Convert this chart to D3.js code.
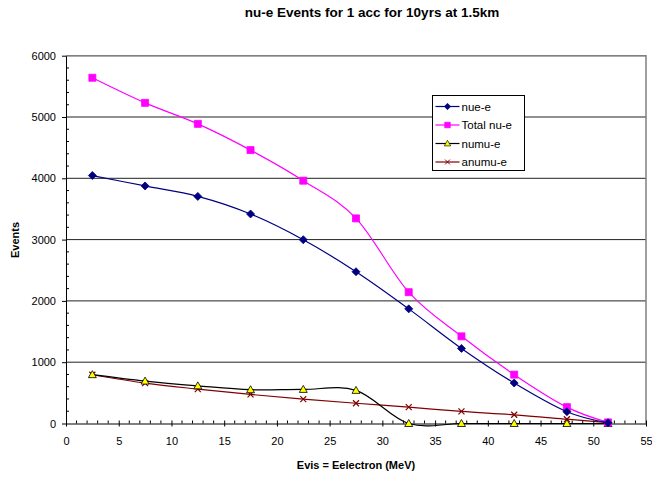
<!DOCTYPE html>
<html>
<head>
<meta charset="utf-8">
<script src="https://cdn.jsdelivr.net/npm/d3@7"></script>
<style>
  body { margin: 0; background: #fff; }
  text { font-family: "Liberation Sans", Arial, sans-serif; }
</style>
</head>
<body>
<div id="chart"></div>
<script>
'use strict'

// energy bins (MeV)
const evis = [2.5, 7.5, 12.5, 17.5, 22.5, 27.5, 32.5, 37.5, 42.5, 47.5, 51.4];
// events per series
const nueE = [4045, 3875, 3705, 3418, 2998, 2476, 1870, 1225, 660, 192, 12];
const totalNuE = [5640, 5231, 4888, 4460, 3961, 3346, 2142, 1422, 797, 267, 18];
const numuE = [797, 692, 614, 551, 556, 540, 0, 0, 0, 0, 0];
const anumuE = [795, 659, 561, 474, 398, 330, 267, 197, 142, 70, 14];
const seriesNames = ['nue-e', 'Total nu-e', 'numu-e', 'anumu-e'];
const xTicks = [0, 5, 10, 15, 20, 25, 30, 35, 40, 45, 50, 55];
const yTicks = [0, 1000, 2000, 3000, 4000, 5000, 6000];

const W = 652, H = 477;
const margin = {top: 55.7, right: 6, bottom: 53.5, left: 66};
const width = W - margin.left - margin.right,
      height = H - margin.top - margin.bottom;

let svg = d3.select('#chart').append('svg')
    .attr('width', W)
    .attr('height', H);

let x = d3.scaleLinear().domain([0, 55]).range([0, width]),
    y = d3.scaleLinear().domain([0, 6000]).range([height, 0]);

let g = svg.append('g')
    .attr('transform', 'translate(' + margin.left + ',' + margin.top + ')');

// gridlines
g.append('g').selectAll('line')
  .data(yTicks.slice(1))
  .join('line')
    .attr('x1', 0).attr('x2', width)
    .attr('y1', d => y(d)).attr('y2', d => y(d))
    .attr('stroke', '#222').attr('stroke-width', 1);

// plot border (top & right)
g.append('path')
    .attr('d', 'M0,' + y(6000) + 'H' + width + 'V' + height)
    .attr('fill', 'none').attr('stroke', '#808080').attr('stroke-width', 1.5);

// minor ticks (inside)
g.append('g').selectAll('line')
  .data(d3.range(0, 56, 1).filter(d => d % 5))
  .join('line')
    .attr('x1', d => x(d)).attr('x2', d => x(d))
    .attr('y1', height).attr('y2', height - 3)
    .attr('stroke', '#000');
g.append('g').selectAll('line')
  .data(d3.range(0, 6001, 200).filter(d => d % 1000))
  .join('line')
    .attr('y1', d => y(d)).attr('y2', d => y(d))
    .attr('x1', 0).attr('x2', 3)
    .attr('stroke', '#000');

// axes
let xAxis = d3.axisBottom(x).tickValues(xTicks).tickSize(3).tickSizeOuter(0).tickPadding(11),
    yAxis = d3.axisLeft(y).tickValues(yTicks).tickFormat(d3.format('d'))
      .tickSize(4).tickSizeOuter(0).tickPadding(6);

let gx = g.append('g')
    .attr('transform', 'translate(0,' + height + ')')
    .call(xAxis);
gx.selectAll('.tick line').attr('y1', -3);
let gy = g.append('g').call(yAxis);

[gx, gy].forEach(a => {
  a.selectAll('text').attr('font-size', 11).attr('fill', '#000')
    .attr('font-family', '"Liberation Sans", Arial, sans-serif');
  a.select('.domain').attr('stroke', '#000');
});

// series lines
let series = [
  {name: seriesNames[0], values: nueE, color: '#000080', marker: 'diamond', fill: '#000080', mstroke: '#000080'},
  {name: seriesNames[1], values: totalNuE, color: '#ff00ff', marker: 'square', fill: '#ff00ff', mstroke: '#ff00ff'},
  {name: seriesNames[2], values: numuE, color: '#000000', marker: 'triangle', fill: '#ffff00', mstroke: '#000000'},
  {name: seriesNames[3], values: anumuE, color: '#800000', marker: 'x', fill: 'none', mstroke: '#800000'}
];

let line = d3.line()
    .curve(d3.curveCardinal.tension(0))
    .x(d => x(d[0]))
    .y(d => y(d[1]));

function markerPath(type) {
  if (type === 'diamond') return 'M0,-4L4,0L0,4L-4,0Z';
  if (type === 'square') return 'M-3.5,-3.5H3.5V3.5H-3.5Z';
  if (type === 'triangle') return 'M0,-4L4,3L-4,3Z';
  return 'M-3,-3L3,3M-3,3L3,-3';
}

function drawMarker(sel, s, k) {
  sel.append('path')
    .attr('d', markerPath(s.marker))
    .attr('transform', 'scale(' + (k || 1) + ')')
    .attr('fill', s.fill)
    .attr('stroke', s.mstroke)
    .attr('stroke-width', s.marker === 'x' ? 1.2 : 0.8);
}

// draw in reverse so nue-e sits on top
series.slice().reverse().forEach(s => {
  let pts = evis.map((e, i) => [e, s.values[i]]);
  g.append('path')
    .datum(pts)
    .attr('fill', 'none')
    .attr('stroke', s.color)
    .attr('stroke-width', 1.2)
    .attr('d', line);
  g.append('g').selectAll('g')
    .data(pts)
    .join('g')
      .attr('transform', d => 'translate(' + x(d[0]) + ',' + y(d[1]) + ')')
      .each(function() { drawMarker(d3.select(this), s); });
});

// legend
let lg = svg.append('g').attr('transform', 'translate(432.5,95.5)');
lg.append('rect')
    .attr('width', 92).attr('height', 75)
    .attr('fill', '#fff').attr('stroke', '#000').attr('stroke-width', 1);
series.forEach((s, i) => {
  let row = lg.append('g').attr('transform', 'translate(0,' + (11 + i * 18.5) + ')');
  row.append('line')
      .attr('x1', 3).attr('x2', 27)
      .attr('stroke', s.color).attr('stroke-width', 1.2);
  drawMarker(row.append('g').attr('transform', 'translate(15,0)'), s, 0.8);
  row.append('text')
      .attr('x', 29).attr('y', 4)
      .attr('font-size', 11.5)
      .text(s.name);
});

// titles
svg.append('text')
    .attr('x', 372).attr('y', 17)
    .attr('text-anchor', 'middle')
    .attr('font-size', 13.5).attr('font-weight', 'bold')
    .text('nu-e Events for 1 acc for 10yrs at 1.5km');

svg.append('text')
    .attr('x', 356).attr('y', 469)
    .attr('text-anchor', 'middle')
    .attr('font-size', 11).attr('font-weight', 'bold')
    .text('Evis = Eelectron (MeV)');

svg.append('text')
    .attr('transform', 'translate(19,240) rotate(-90)')
    .attr('text-anchor', 'middle')
    .attr('font-size', 11).attr('font-weight', 'bold')
    .text('Events');
</script>
</body>
</html>
